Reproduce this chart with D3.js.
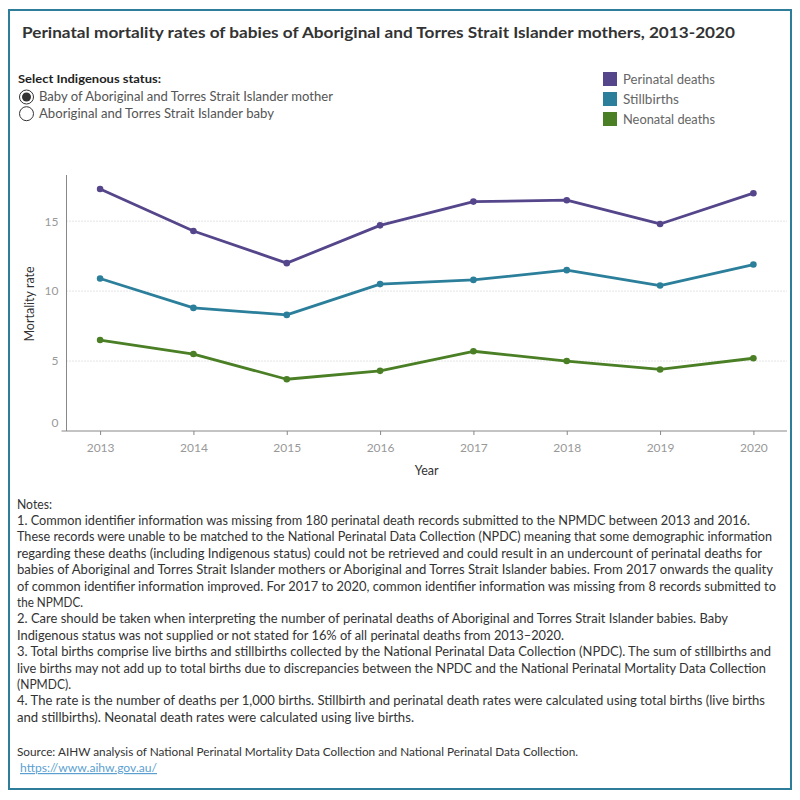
<!DOCTYPE html>
<html>
<head>
<meta charset="utf-8">
<script src="https://cdn.jsdelivr.net/npm/d3@7"></script>
<style>
  body { margin: 0; background: #fff; }
  svg { display: block; font-family: Lato, "Open Sans", sans-serif; }
</style>
</head>
<body>
<div id="chart"></div>
<script>
(() => {
  // Data
  const years = [2013, 2014, 2015, 2016, 2017, 2018, 2019, 2020];
  const perinatal = [17.3, 14.3, 12.0, 14.7, 16.4, 16.5, 14.8, 17.0];
  const stillbirths = [10.9, 8.8, 8.3, 10.5, 10.8, 11.5, 10.4, 11.9];
  const neonatal = [6.5, 5.5, 3.7, 4.3, 5.7, 5.0, 4.4, 5.2];
  const seriesNames = ["Perinatal deaths", "Stillbirths", "Neonatal deaths"];
  const yTicks = [0, 5, 10, 15];
  const radioOptions = ["Baby of Aboriginal and Torres Strait Islander mother", "Aboriginal and Torres Strait Islander baby"];
  const noteLines = [
    "Notes:",
    "1. Common identifier information was missing from 180 perinatal death records submitted to the NPMDC between 2013 and 2016.",
    "These records were unable to be matched to the National Perinatal Data Collection (NPDC) meaning that some demographic information",
    "regarding these deaths (including Indigenous status) could not be retrieved and could result in an undercount of perinatal deaths for",
    "babies of Aboriginal and Torres Strait Islander mothers or Aboriginal and Torres Strait Islander babies. From 2017 onwards the quality",
    "of common identifier information improved. For 2017 to 2020, common identifier information was missing from 8 records submitted to",
    "the NPMDC.",
    "2. Care should be taken when interpreting the number of perinatal deaths of Aboriginal and Torres Strait Islander babies. Baby",
    "Indigenous status was not supplied or not stated for 16% of all perinatal deaths from 2013\u20132020.",
    "3. Total births comprise live births and stillbirths collected by the National Perinatal Data Collection (NPDC). The sum of stillbirths and",
    "live births may not add up to total births due to discrepancies between the NPDC and the National Perinatal Mortality Data Collection",
    "(NPMDC).",
    "4. The rate is the number of deaths per 1,000 births. Stillbirth and perinatal death rates were calculated using total births (live births",
    "and stillbirths). Neonatal death rates were calculated using live births."
  ];
  // right edge of each note line, for fitting the narrow original font
  const noteEnds = [52, 750, 772, 762, 773, 776, 83, 728, 564, 771, 766, 71, 765, 414];

  const width = 800, height = 800;
  const colors = ["#55458a", "#2b7f9b", "#4a7f25"];
  const margin = { top: 175, right: 787, bottom: 431, left: 66.5 };

  const svg = d3.select("#chart").append("svg")
    .attr("width", width)
    .attr("height", height);

  // outer frame
  svg.append("rect")
    .attr("x", 9).attr("y", 10)
    .attr("width", 782).attr("height", 779)
    .attr("fill", "none")
    .attr("stroke", "#2e7d9b")
    .attr("stroke-width", 2);

  // fit text to a given span
  function fit(sel, w) {
    sel.attr("textLength", w).attr("lengthAdjust", "spacingAndGlyphs");
  }

  svg.append("text")
    .attr("x", 22).attr("y", 38)
    .attr("font-size", 16).attr("font-weight", "bold")
    .attr("fill", "#333")
    .text("Perinatal mortality rates of babies of Aboriginal and Torres Strait Islander mothers, 2013-2020")
    .call(fit, 713);

  // radio filter (static)
  svg.append("text")
    .attr("x", 18).attr("y", 83)
    .attr("font-size", 12).attr("font-weight", "bold")
    .attr("fill", "#222")
    .text("Select Indigenous status:")
    .call(fit, 143);

  const radio = svg.append("g").selectAll("g")
    .data(radioOptions)
    .join("g")
    .attr("transform", (d, i) => `translate(0,${97 + i * 16.7})`);
  radio.append("circle")
    .attr("cx", 26.5).attr("r", 7)
    .attr("fill", "#fff").attr("stroke", "#333").attr("stroke-width", 1);
  radio.filter((d, i) => i === 0).append("circle")
    .attr("cx", 26.5).attr("r", 4.5)
    .attr("fill", "#333");
  radio.append("text")
    .attr("x", 39).attr("y", 4)
    .attr("font-size", 12.5).attr("fill", "#555")
    .text(d => d)
    .each(function(d, i) { d3.select(this).call(fit, i === 0 ? 294 : 235); });

  // legend
  const legend = svg.append("g").selectAll("g")
    .data(seriesNames)
    .join("g")
    .attr("transform", (d, i) => `translate(603,${72 + i * 20})`);
  legend.append("rect")
    .attr("width", 14).attr("height", 14)
    .attr("fill", (d, i) => colors[i]);
  legend.append("text")
    .attr("x", 20).attr("y", 11.5)
    .attr("font-size", 12.5).attr("fill", "#666")
    .text(d => d)
    .each(function(d, i) { d3.select(this).call(fit, [92, 56, 92][i]); });

  // scales
  const x = d3.scalePoint()
    .domain(years)
    .range([margin.left, margin.right])
    .padding(0.36);

  const y = d3.scaleLinear()
    .domain([0, 18.3])
    .range([margin.bottom, margin.top]);

  // gridlines
  svg.append("g")
    .selectAll("line")
    .data(yTicks.filter(d => d > 0))
    .join("line")
    .attr("x1", margin.left).attr("x2", margin.right)
    .attr("y1", d => y(d)).attr("y2", d => y(d))
    .attr("stroke", "#c8c8c8")
    .attr("stroke-dasharray", "1,2");

  // y axis
  const yAxis = svg.append("g")
    .attr("transform", `translate(${margin.left},0)`)
    .call(d3.axisLeft(y).tickValues(yTicks).tickSize(0).tickPadding(8));
  yAxis.select(".domain").attr("stroke", "#888").attr("d", `M0,${margin.top}V${margin.bottom}`);
  yAxis.selectAll("text").attr("font-size", 12).attr("fill", "#999").attr("font-family", "Lato, sans-serif");
  // bottom label sits just above the axis, as in the original
  yAxis.selectAll(".tick").filter(d => d === 0).select("text").attr("dy", "-0.35em");

  // x axis
  const xAxis = svg.append("g")
    .attr("transform", `translate(0,${margin.bottom})`)
    .call(d3.axisBottom(x).tickSize(4).tickPadding(8));
  xAxis.select(".domain").attr("stroke", "#888").attr("d", `M${margin.left - 5},0H${margin.right}`);
  xAxis.selectAll(".tick line").attr("stroke", "#888");
  xAxis.selectAll("text").attr("font-size", 12).attr("fill", "#999").attr("font-family", "Lato, sans-serif");

  svg.append("text")
    .attr("transform", `translate(34,${(margin.top + margin.bottom) / 2 + 1}) rotate(-90)`)
    .attr("text-anchor", "middle")
    .attr("font-size", 12.5).attr("fill", "#333")
    .text("Mortality rate");

  svg.append("text")
    .attr("x", (margin.left + margin.right) / 2).attr("y", 475)
    .attr("text-anchor", "middle")
    .attr("font-size", 12.5).attr("fill", "#333")
    .text("Year");

  // lines and points
  const allSeries = [perinatal, stillbirths, neonatal];
  const line = d3.line()
    .x((d, i) => x(years[i]))
    .y(d => y(d));

  const series = svg.append("g").selectAll("g")
    .data(allSeries)
    .join("g");
  series.append("path")
    .attr("fill", "none")
    .attr("stroke", (d, i) => colors[i])
    .attr("stroke-width", 2.8)
    .attr("stroke-linejoin", "round")
    .attr("d", line);
  series.each(function(vals, si) {
    d3.select(this).selectAll("circle")
      .data(vals)
      .join("circle")
      .attr("cx", (d, i) => x(years[i]))
      .attr("cy", d => y(d))
      .attr("r", 3.3)
      .attr("fill", colors[si]);
  });

  // notes
  svg.append("g").selectAll("text")
    .data(noteLines)
    .join("text")
    .attr("x", 17).attr("y", (d, i) => 508.6 + i * 16.4)
    .attr("font-size", 12.5).attr("fill", "#333")
    .text(d => d)
    .each(function(d, i) { d3.select(this).call(fit, noteEnds[i] - 17); });

  svg.append("text")
    .attr("x", 17).attr("y", 756)
    .attr("font-size", 12).attr("fill", "#333")
    .text("Source: AIHW analysis of National Perinatal Mortality Data Collection and National Perinatal Data Collection.")
    .call(fit, 561);

  svg.append("text")
    .attr("x", 20).attr("y", 772)
    .attr("font-size", 12).attr("fill", "#5b9fd0")
    .attr("text-decoration", "underline")
    .text("https://www.aihw.gov.au/")
    .call(fit, 137);
})();
</script>
</body>
</html>
